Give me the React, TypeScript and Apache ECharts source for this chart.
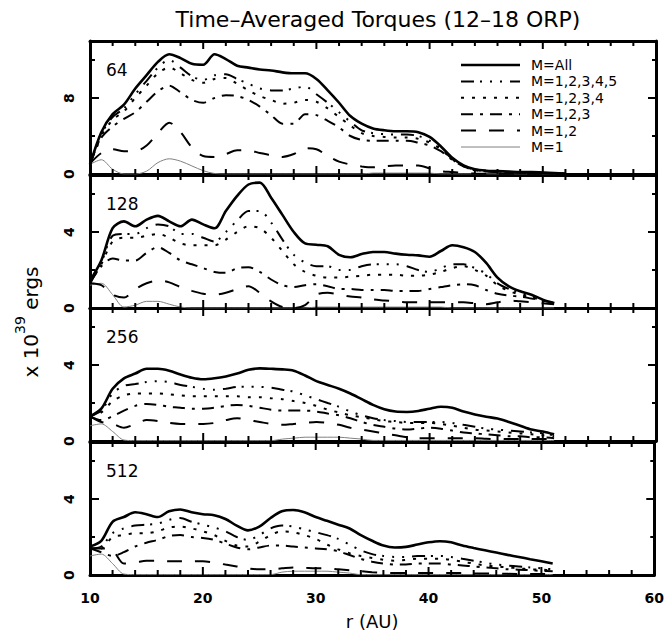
import React, { useEffect, useRef } from 'react';
import * as echarts from 'echarts';

// radius values (AU)
const R = [10, 11, 12, 13, 14, 15, 16, 17, 18, 19, 20, 21, 22, 23, 24, 25, 26, 27, 28, 29, 30, 31, 32, 33, 34, 35, 36, 37, 38, 39, 40, 41, 42, 43, 44, 45, 46, 47, 48, 49, 50, 51, 52];

const SERIES_NAMES = ['M=All', 'M=1,2,3,4,5', 'M=1,2,3,4', 'M=1,2,3', 'M=1,2', 'M=1'];
const PANEL_LABELS = ['64', '128', '256', '512'];
const X_TICK_LABELS = ['10', '20', '30', '40', '50', '60'];

// tick positions
const X_MAJOR_TICKS = [10, 20, 30, 40, 50, 60];
const X_MINOR_TICKS = [12, 14, 16, 18, 22, 24, 26, 28, 32, 34, 36, 38, 42, 44, 46, 48, 52, 54, 56, 58];
const Y_MAJOR_TICKS = [[8], [4], [4], [4]];
const Y_MINOR_TICKS = [[4, 12], [2, 6], [2, 6], [2, 6]];

// Panel 64
const ALL_64 = [1.0, 4.4, 6.3, 7.3, 9.0, 10.4, 11.8, 12.6, 12.2, 11.6, 11.5, 12.6, 12.1, 11.4, 11.2, 11.0, 10.9, 10.7, 10.6, 10.6, 10.0, 8.8, 7.5, 6.1, 5.3, 4.8, 4.6, 4.5, 4.5, 4.4, 3.9, 2.9, 1.7, 0.9, 0.5, 0.35, 0.3, 0.25, 0.2, 0.2, 0.15, 0.1, 0.05];
const M5_64 = [1.0, 4.2, 6.0, 6.9, 8.4, 9.8, 11.2, 12.0, 11.2, 10.3, 9.9, 10.4, 10.5, 10.0, 9.5, 9.0, 8.8, 8.8, 9.0, 9.2, 8.4, 7.5, 6.5, 5.5, 4.6, 4.3, 4.2, 4.15, 4.15, 4.0, 3.5, 2.7, 1.6, 0.85, 0.45, 0.3, 0.25, 0.2, 0.18, 0.15, 0.12, 0.08, 0.04];
const M4_64 = [1.0, 4.0, 5.7, 6.6, 8.0, 9.3, 10.6, 11.2, 10.6, 9.9, 9.6, 10.0, 10.1, 9.5, 8.8, 8.2, 7.8, 7.4, 7.5, 7.8, 7.6, 6.9, 6.0, 5.1, 4.3, 4.0, 3.9, 3.85, 3.85, 3.7, 3.3, 2.6, 1.55, 0.8, 0.4, 0.28, 0.22, 0.18, 0.15, 0.12, 0.1, 0.06, 0.03];
const M3_64 = [1.0, 3.8, 5.0, 5.8, 6.5, 7.6, 8.7, 9.3, 8.6, 7.8, 7.5, 8.0, 8.3, 8.2, 7.8, 7.1, 6.2, 5.3, 5.3, 6.3, 6.2, 5.6, 4.9, 4.0, 3.6, 3.5, 3.5, 3.5, 3.5, 3.3, 3.0, 2.4, 1.5, 0.8, 0.4, 0.25, 0.2, 0.15, 0.12, 0.1, 0.08, 0.05, 0.02];
const M2_64 = [1.1, 2.2, 2.6, 2.4, 2.4, 3.0, 4.3, 5.4, 4.4, 2.8, 1.9, 1.8, 2.1, 2.5, 2.5, 2.2, 2.0, 1.8, 2.1, 2.7, 2.6, 1.9, 1.3, 1.0, 0.8, 0.7, 0.8, 0.9, 0.9, 0.9, 0.6, 0.3, 0.2, 0.1, 0.05, 0.03, 0.03, 0.03, 0.03, 0.03, 0.03, 0.03, 0.03];
const M1_64 = [1.0, 1.5, 0.5, 0.0, 0.0, 0.3, 1.2, 1.6, 1.35, 0.85, 0.35, 0.05, 0.0, 0.0, 0.0, 0.0, 0.0, 0.0, 0.0, 0.0, 0.0, 0.0, 0.0, 0.0, 0.0, 0.1, 0.1, 0.1, 0.1, 0.1, 0.1, 0.0, 0.0, 0.0, 0.0, 0.0, 0.0, 0.0, 0.0, 0.0, 0.0, 0.0, 0.0];

// Panel 128
const ALL_128 = [1.44, 2.5, 4.2, 4.56, 4.3, 4.65, 4.85, 4.56, 4.3, 4.65, 4.4, 4.2, 5.1, 5.9, 6.5, 6.6, 5.8, 4.9, 4.0, 3.4, 3.33, 3.25, 2.8, 2.67, 2.84, 2.95, 2.95, 2.86, 2.8, 2.77, 2.7, 3.0, 3.3, 3.2, 2.95, 2.37, 1.6, 1.14, 0.88, 0.7, 0.44, 0.26];
const M5_128 = [1.3, 2.4, 3.8, 3.9, 3.9, 4.2, 4.4, 4.3, 3.9, 3.9, 3.7, 3.5, 4.0, 4.6, 5.1, 5.1, 4.5, 3.6, 2.8, 2.4, 2.2, 2.2, 2.0, 2.0, 2.2, 2.3, 2.3, 2.3, 2.2, 2.0, 1.9, 2.1, 2.3, 2.3, 2.1, 1.8, 1.3, 1.0, 0.8, 0.6, 0.4, 0.25];
const M4_128 = [1.3, 2.3, 3.5, 3.7, 3.7, 3.8, 3.9, 3.7, 3.4, 3.3, 3.3, 3.3, 3.6, 4.0, 4.3, 4.2, 3.7, 3.0, 2.3, 1.9, 1.7, 1.6, 1.6, 1.65, 1.7, 1.75, 1.75, 1.75, 1.7, 1.7, 1.75, 1.9, 2.1, 2.2, 2.0, 1.7, 1.2, 0.9, 0.7, 0.55, 0.4, 0.25];
const M3_128 = [1.3, 2.2, 2.6, 2.5, 2.5, 2.9, 3.2, 2.9, 2.5, 2.3, 2.1, 1.9, 1.85, 2.1, 2.15, 1.9, 1.5, 1.2, 1.1, 1.2, 1.25, 1.15, 1.0, 1.0, 0.95, 0.95, 0.95, 0.9, 0.9, 0.9, 1.0, 1.1, 1.2, 1.25, 1.2, 0.95, 0.75, 0.65, 0.6, 0.5, 0.4, 0.25];
const M2_128 = [1.3, 1.2, 0.7, 0.55, 1.0, 1.3, 1.45, 1.35, 1.1, 0.9, 0.75, 0.7, 0.8, 1.0, 1.15, 0.8, 0.35, 0.05, 0.0, 0.15, 0.7, 0.8, 0.7, 0.6, 0.55, 0.45, 0.4, 0.35, 0.3, 0.3, 0.3, 0.3, 0.3, 0.3, 0.25, 0.2, 0.3, 0.4, 0.35, 0.3, 0.25, 0.2];
const M1_128 = [1.2, 1.3, 0.7, 0.05, 0.15, 0.35, 0.35, 0.2, 0.05, 0.0, 0.0, 0.0, 0.0, 0.0, 0.0, 0.0, 0.0, 0.0, 0.0, 0.0, 0.05, 0.05, 0.05, 0.05, 0.05, 0.05, 0.05, 0.05, 0.05, 0.05, 0.05, 0.05, 0.0, 0.0, 0.0, 0.0, 0.0, 0.0, 0.0, 0.0, 0.0, 0.0];

// Panel 256
const ALL_256 = [1.3, 1.7, 2.75, 3.3, 3.55, 3.8, 3.8, 3.7, 3.5, 3.33, 3.25, 3.3, 3.4, 3.55, 3.75, 3.82, 3.8, 3.77, 3.7, 3.45, 3.15, 2.95, 2.75, 2.5, 2.2, 1.9, 1.67, 1.55, 1.53, 1.58, 1.7, 1.8, 1.75, 1.55, 1.4, 1.28, 1.18, 1.0, 0.8, 0.6, 0.5, 0.35];
const M5_256 = [1.3, 1.6, 2.5, 2.9, 3.0, 3.1, 3.15, 3.1, 2.95, 2.85, 2.75, 2.7, 2.75, 2.85, 2.85, 2.85, 2.8, 2.7, 2.6, 2.4, 2.2, 2.0, 1.8, 1.55, 1.35, 1.2, 1.1, 1.05, 1.0, 1.0, 1.0, 1.0, 0.95, 0.85, 0.75, 0.65, 0.6, 0.55, 0.5, 0.45, 0.4, 0.3];
const M4_256 = [1.3, 1.5, 2.1, 2.4, 2.5, 2.5, 2.5, 2.45, 2.4, 2.35, 2.35, 2.35, 2.35, 2.35, 2.3, 2.3, 2.25, 2.2, 2.1, 2.0, 1.85, 1.65, 1.5, 1.35, 1.25, 1.15, 1.05, 1.0, 0.95, 0.95, 0.95, 0.9, 0.8, 0.7, 0.6, 0.55, 0.5, 0.45, 0.4, 0.35, 0.3, 0.25];
const M3_256 = [1.3, 1.1, 1.3, 1.6, 1.85, 1.95, 1.9, 1.8, 1.75, 1.7, 1.7, 1.75, 1.85, 1.9, 1.85, 1.75, 1.65, 1.6, 1.6, 1.6, 1.55, 1.45, 1.35, 1.2, 1.0, 0.85, 0.75, 0.65, 0.6, 0.65, 0.7, 0.65, 0.55, 0.45, 0.4, 0.35, 0.3, 0.25, 0.25, 0.2, 0.2, 0.15];
const M2_256 = [1.3, 1.0, 0.9, 0.7, 0.9, 1.1, 1.05, 0.95, 0.9, 0.9, 0.9, 0.95, 1.1, 1.2, 1.1, 1.0, 0.9, 0.85, 0.9, 0.95, 1.0, 0.95, 0.85, 0.7, 0.6, 0.5, 0.4, 0.3, 0.2, 0.15, 0.15, 0.15, 0.15, 0.15, 0.15, 0.12, 0.1, 0.1, 0.1, 0.1, 0.1, 0.1];
const M1_256 = [0.8, 0.9, 0.5, 0.05, 0.02, 0.02, 0.02, 0.02, 0.02, 0.02, 0.02, 0.02, 0.02, 0.02, 0.02, 0.02, 0.02, 0.1, 0.15, 0.2, 0.2, 0.2, 0.2, 0.15, 0.1, 0.03, 0.03, 0.03, 0.03, 0.03, 0.03, 0.03, 0.03, 0.03, 0.03, 0.03, 0.03, 0.03, 0.03, 0.03, 0.03, 0.03];

// Panel 512
const ALL_512 = [1.5, 1.8, 2.8, 3.05, 3.3, 3.2, 3.05, 3.35, 3.45, 3.3, 3.2, 3.15, 2.95, 2.6, 2.35, 2.55, 3.0, 3.35, 3.42, 3.3, 3.05, 2.85, 2.65, 2.45, 2.1, 1.8, 1.55, 1.45, 1.48, 1.6, 1.72, 1.78, 1.72, 1.55, 1.42, 1.3, 1.18, 1.06, 0.95, 0.83, 0.72, 0.6];
const M5_512 = [1.4, 1.5, 2.2, 2.45, 2.6, 2.65, 2.7, 2.9, 3.0, 2.8, 2.65, 2.5, 2.3, 2.0, 1.85, 2.1, 2.45, 2.6, 2.55, 2.4, 2.25, 2.1, 1.9, 1.6, 1.3, 1.1, 1.0, 0.95, 0.95, 1.0, 1.0, 1.0, 0.95, 0.85, 0.75, 0.65, 0.55, 0.5, 0.45, 0.4, 0.35, 0.3];
const M4_512 = [1.4, 1.4, 2.0, 2.1, 2.2, 2.2, 2.3, 2.5, 2.55, 2.45, 2.3, 2.1, 1.8, 1.55, 1.5, 1.75, 2.1, 2.3, 2.25, 2.1, 1.9, 1.6, 1.35, 1.15, 1.0, 0.9, 0.8, 0.75, 0.8, 0.85, 0.85, 0.85, 0.8, 0.7, 0.6, 0.5, 0.45, 0.4, 0.35, 0.3, 0.28, 0.25];
const M3_512 = [1.4, 1.2, 1.0, 1.2, 1.5, 1.7, 1.85, 2.05, 2.1, 2.0, 1.95, 1.85, 1.65, 1.45, 1.35, 1.45, 1.55, 1.55, 1.5, 1.45, 1.4, 1.35, 1.25, 1.05, 0.85, 0.7, 0.6, 0.55, 0.55, 0.6, 0.6, 0.6, 0.55, 0.5, 0.45, 0.4, 0.35, 0.3, 0.28, 0.25, 0.22, 0.2];
const M2_512 = [1.4, 1.4, 1.3, 0.6, 0.65, 0.75, 0.75, 0.72, 0.72, 0.72, 0.72, 0.65, 0.55, 0.45, 0.35, 0.3, 0.3, 0.35, 0.4, 0.38, 0.35, 0.35, 0.3, 0.25, 0.2, 0.15, 0.12, 0.1, 0.1, 0.1, 0.1, 0.1, 0.1, 0.1, 0.08, 0.08, 0.08, 0.06, 0.05, 0.05, 0.05, 0.05];
const M1_512 = [1.0, 1.1, 0.6, 0.05, 0.02, 0.02, 0.02, 0.02, 0.02, 0.02, 0.02, 0.02, 0.02, 0.02, 0.02, 0.02, 0.02, 0.15, 0.2, 0.2, 0.2, 0.2, 0.15, 0.1, 0.02, 0.02, 0.02, 0.02, 0.02, 0.02, 0.02, 0.02, 0.02, 0.02, 0.02, 0.02, 0.02, 0.02, 0.02, 0.02, 0.02, 0.02];

const PANELS = [
  [ALL_64, M5_64, M4_64, M3_64, M2_64, M1_64],
  [ALL_128, M5_128, M4_128, M3_128, M2_128, M1_128],
  [ALL_256, M5_256, M4_256, M3_256, M2_256, M1_256],
  [ALL_512, M5_512, M4_512, M3_512, M2_512, M1_512],
];

const X_MIN = 10;
const X_MAX = 60;
const Y_MAX = [14, 7, 7, 7];
const Y_MAJOR = [8, 4, 4, 4];

const LINE_STYLES: any[] = [
  { color: '#000', width: 2.6, type: 'solid' },
  { color: '#000', width: 2, type: [13, 6, 2, 8, 2, 8, 2, 8] },
  { color: '#000', width: 2, type: [3, 8] },
  { color: '#000', width: 2, type: [12, 7, 3, 7] },
  { color: '#000', width: 2, type: [15, 13] },
  { color: '#808080', width: 1, type: 'solid' },
];

const FONT = 'DejaVu Sans';
const GRID_LEFT = 90;
const GRID_RIGHT = 11;
const GRID_TOPS = [41, 175, 308, 442];
const GRID_H = 133;
const FRAME = { show: true, onZero: false, lineStyle: { color: '#000', width: 3 } };

// tick lengths in pixels
const X_MAJOR_LEN = 8;
const X_MINOR_LEN = 5;
const Y_MAJOR_LEN = 9;
const Y_MINOR_LEN = 5;

function tickLine(x1: number, y1: number, x2: number, y2: number) {
  return {
    type: 'line',
    silent: true,
    z: 50,
    shape: { x1, y1, x2, y2 },
    style: { stroke: '#000', lineWidth: 2 },
  };
}

// Tick marks placed through the chart's own scales (convertToPixel)
function buildTicks(chart: any) {
  const out: any[] = [];
  GRID_TOPS.forEach((_, k) => {
    const yMax = Y_MAX[k];
    const finder = { xAxisIndex: 2 * k, yAxisIndex: 2 * k };
    const px = (x: number, y: number) => chart.convertToPixel(finder, [x, y]) as number[];
    const addX = (v: number, len: number) => {
      const b = px(v, 0);
      const t = px(v, yMax);
      if (!b || !t) return;
      out.push(tickLine(b[0], b[1], b[0], b[1] - len));
      out.push(tickLine(t[0], t[1], t[0], t[1] + len));
    };
    const addY = (v: number, len: number) => {
      const l = px(X_MIN, v);
      const r = px(X_MAX, v);
      if (!l || !r) return;
      out.push(tickLine(l[0], l[1], l[0] + len, l[1]));
      out.push(tickLine(r[0], r[1], r[0] - (len - 1), r[1]));
    };
    X_MAJOR_TICKS.forEach((v) => addX(v, X_MAJOR_LEN));
    X_MINOR_TICKS.forEach((v) => addX(v, X_MINOR_LEN));
    Y_MAJOR_TICKS[k].forEach((v) => addY(v, Y_MAJOR_LEN));
    Y_MINOR_TICKS[k].forEach((v) => addY(v, Y_MINOR_LEN));
  });
  return out;
}

function buildGraphics() {
  const graphics: any[] = PANEL_LABELS.map((t, k) => ({
    type: 'text',
    x: 106,
    y: GRID_TOPS[k] + 29,
    style: {
      text: t,
      fill: '#000',
      fontFamily: FONT,
      fontSize: 17,
      align: 'left',
      verticalAlign: 'middle',
      textAlign: 'left',
      textVerticalAlign: 'middle',
    },
  }));

  // legend (drawn so that dash patterns match the series exactly)
  const LEG_X1 = 461;
  const LEG_X2 = 520;
  const LEG_TOP = 65;
  const LEG_STEP = 16.4;
  SERIES_NAMES.forEach((name, i) => {
    const y = LEG_TOP + i * LEG_STEP;
    const ls = LINE_STYLES[i];
    graphics.push({
      type: 'line',
      shape: { x1: LEG_X1, y1: y, x2: LEG_X2, y2: y },
      style: {
        stroke: ls.color,
        lineWidth: ls.width,
        lineDash: Array.isArray(ls.type) ? ls.type : null,
      },
      silent: true,
    });
    graphics.push({
      type: 'text',
      x: 531,
      y,
      style: {
        text: name,
        fill: '#000',
        fontFamily: FONT,
        fontSize: 14,
        align: 'left',
        verticalAlign: 'middle',
        textAlign: 'left',
        textVerticalAlign: 'middle',
      },
      silent: true,
    });
  });

  graphics.push({
    type: 'text',
    x: 27,
    y: 322,
    rotation: Math.PI / 2,
    style: {
      text: '{a|x 10}{b|39}{a| ergs}',
      fill: '#000',
      align: 'center',
      verticalAlign: 'middle',
      textAlign: 'center',
      textVerticalAlign: 'middle',
      rich: {
        a: { fontFamily: FONT, fontSize: 20, lineHeight: 28, verticalAlign: 'bottom', fill: '#000' },
        b: { fontFamily: FONT, fontSize: 14, lineHeight: 28, verticalAlign: 'top', fill: '#000' },
      },
    },
  });
  return graphics;
}

function buildOption() {
  const grids = GRID_TOPS.map((top) => ({
    left: GRID_LEFT,
    right: GRID_RIGHT,
    top,
    height: GRID_H,
    show: false,
  }));

  const xAxes: any[] = [];
  const yAxes: any[] = [];
  GRID_TOPS.forEach((_, k) => {
    ['bottom', 'top'].forEach((pos) => {
      const isBottomLabel = pos === 'bottom' && k === 3;
      xAxes.push({
        type: 'value',
        gridIndex: k,
        position: pos,
        min: X_MIN,
        max: X_MAX,
        interval: 10,
        axisLine: FRAME,
        axisTick: { show: false },
        splitLine: { show: false },
        axisLabel: {
          show: isBottomLabel,
          margin: 16,
          color: '#000',
          fontFamily: FONT,
          fontWeight: 'bold',
          fontSize: 14,
          formatter: (v: number) => (X_TICK_LABELS.includes(String(v)) ? String(v) : ''),
        },
        name: isBottomLabel ? 'r (AU)' : '',
        nameLocation: 'middle',
        nameGap: 37,
        nameTextStyle: { color: '#000', fontFamily: FONT, fontSize: 18 },
      });
    });
    const major = Y_MAJOR[k];
    ['left', 'right'].forEach((pos) => {
      yAxes.push({
        type: 'value',
        gridIndex: k,
        position: pos,
        min: 0,
        max: Y_MAX[k],
        interval: major,
        axisLine: FRAME,
        axisTick: { show: false },
        splitLine: { show: false },
        axisLabel: {
          show: pos === 'left',
          rotate: 90,
          margin: 14,
          color: '#000',
          fontFamily: FONT,
          fontWeight: 'bold',
          fontSize: 14,
          formatter: (v: number) => (v === 0 || v === major ? String(v) : ''),
        },
      });
    });
  });

  const series: any[] = [];
  PANELS.forEach((panel, k) => {
    panel.forEach((vals, i) => {
      const data: number[][] = [];
      vals.forEach((v, j) => {
        if (v !== undefined && v !== null) data.push([R[j], v]);
      });
      series.push({
        type: 'line',
        name: SERIES_NAMES[i],
        xAxisIndex: 2 * k,
        yAxisIndex: 2 * k,
        data,
        symbol: 'none',
        smooth: 0.3,
        clip: true,
        silent: true,
        z: 10 - i,
        lineStyle: { ...LINE_STYLES[i] },
        itemStyle: { color: LINE_STYLES[i].color },
      });
    });
  });

  return {
    animation: false,
    backgroundColor: '#fff',
    title: {
      text: 'Time\u2013Averaged Torques (12\u201318 ORP)',
      left: 373,
      top: 3,
      textAlign: 'center',
      textStyle: { color: '#000', fontFamily: FONT, fontSize: 22, fontWeight: 'normal' },
    },
    grid: grids,
    xAxis: xAxes,
    yAxis: yAxes,
    series,
    graphic: { elements: buildGraphics() },
  };
}

export default function App() {
  const ref = useRef<HTMLDivElement>(null);
  useEffect(() => {
    if (!ref.current) return;
    const chart = echarts.init(ref.current, undefined, { renderer: 'svg' });
    chart.setOption(buildOption() as any);
    const all = [...buildGraphics(), ...buildTicks(chart)];
    chart.setOption({ graphic: { elements: all } } as any);
    return () => chart.dispose();
  }, []);
  return (
    <div
      ref={ref}
      style={{ position: 'fixed', left: 0, top: 0, width: 667, height: 638, background: '#fff' }}
    />
  );
}
